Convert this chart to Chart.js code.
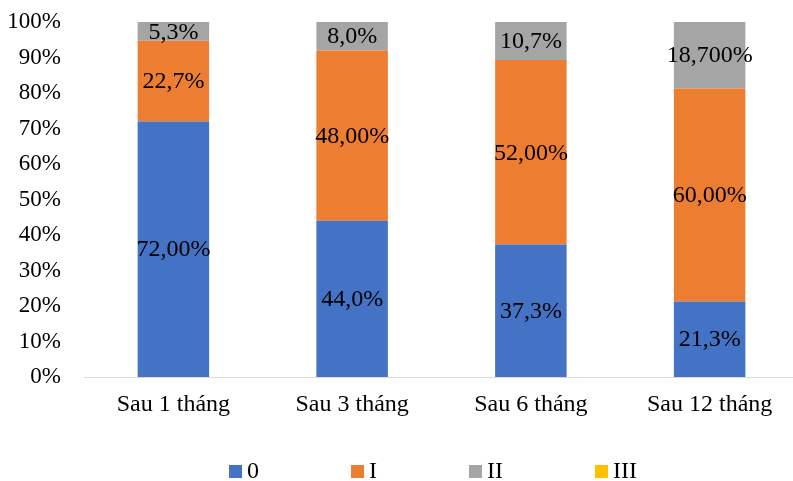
<!DOCTYPE html>
<html>
<head>
<meta charset="utf-8">
<script src="https://cdn.jsdelivr.net/npm/chart.js@4"></script>
<style>
  html, body { margin: 0; padding: 0; overflow: hidden; background: #fff; }
</style>
</head>
<body>
<canvas id="chartDoMo" width="800" height="481"></canvas>
<script>
// thời điểm theo dõi
const thoiDiem = ['Sau 1 tháng', 'Sau 3 tháng', 'Sau 6 tháng', 'Sau 12 tháng'];
// tỉ lệ (%) theo từng mức độ
const muc0   = [72, 44, 37.3, 21.3];
const mucI   = [22.7, 48, 52, 60];
const mucII  = [5.3, 8, 10.7, 18.7];
const mucIII = [0, 0, 0, 0];
// số chữ số thập phân khi ghi nhãn
const le0   = [2, 1, 1, 1];
const leI   = [1, 2, 2, 2];
const leII  = [1, 1, 1, 3];
const leIII = [0, 0, 0, 0];
// vạch trục tung
const mocTruc = [0, 10, 20, 30, 40, 50, 60, 70, 80, 90, 100];

const FONT = '"Liberation Serif", "Times New Roman", serif';
Chart.defaults.font.family = FONT;
Chart.defaults.font.size = 24;
Chart.defaults.color = '#000';

// nhãn giá trị giữa mỗi đoạn cột
const nhanGiaTri = {
  id: 'nhanGiaTri',
  afterDatasetsDraw(chart) {
    const ctx = chart.ctx;
    ctx.save();
    ctx.font = '24px ' + FONT;
    ctx.fillStyle = '#000';
    ctx.textAlign = 'center';
    ctx.textBaseline = 'middle';
    chart.data.datasets.forEach((ds, i) => {
      chart.getDatasetMeta(i).data.forEach((bar, j) => {
        const v = ds.data[j];
        if (!v) return;
        const p = bar.getProps(['x', 'y', 'base'], true);
        const txt = v.toFixed(ds.soLe[j]).replace('.', ',') + '%';
        ctx.fillText(txt, p.x, (p.y + p.base) / 2 + 1);
      });
    });
    ctx.restore();
  }
};

// chú giải phía dưới
const chuGiai = {
  id: 'chuGiai',
  afterDraw(chart) {
    const ctx = chart.ctx;
    const box = 13, gap = 5, khoang = 92;
    ctx.save();
    ctx.font = '24px ' + FONT;
    ctx.textBaseline = 'middle';
    const items = chart.data.datasets.map(ds => ({
      text: ds.label,
      color: ds.backgroundColor,
      w: box + gap + ctx.measureText(ds.label).width
    }));
    const tong = items.reduce((s, it) => s + it.w, 0) + khoang * (items.length - 1);
    let x = 433 - tong / 2;
    const y = 472;
    items.forEach(it => {
      ctx.fillStyle = it.color;
      ctx.fillRect(x, y - 7, box, box);
      ctx.fillStyle = '#000';
      ctx.fillText(it.text, x + box + gap, y);
      x += it.w + khoang;
    });
    ctx.restore();
  }
};

new Chart(document.getElementById('chartDoMo'), {
  type: 'bar',
  data: {
    labels: thoiDiem,
    datasets: [
      { label: '0',   data: muc0,   soLe: le0,   backgroundColor: '#4472C4' },
      { label: 'I',   data: mucI,   soLe: leI,   backgroundColor: '#ED7D31' },
      { label: 'II',  data: mucII,  soLe: leII,  backgroundColor: '#A5A5A5' },
      { label: 'III', data: mucIII, soLe: leIII, backgroundColor: '#FFC000' }
    ]
  },
  options: {
    responsive: false,
    animation: false,
    categoryPercentage: 1,
    barPercentage: 0.4,
    layout: { padding: { top: 22, right: 1, bottom: 64, left: 0 } },
    plugins: {
      legend: { display: false },
      tooltip: { enabled: false }
    },
    scales: {
      x: {
        stacked: true,
        grid: { display: false, drawTicks: false },
        border: { display: true, color: '#d9d9d9', width: 1 },
        ticks: { padding: 13, maxRotation: 0 },
        afterFit: s => { s.height = 40; }
      },
      y: {
        stacked: true,
        min: 0,
        max: 100,
        grid: { display: false, drawTicks: false },
        border: { display: false },
        ticks: { padding: 23, font: { size: 23 }, callback: v => v + '%' },
        afterBuildTicks: s => { s.ticks = mocTruc.map(v => ({ value: v })); },
        afterFit: s => { s.width = 84; s.paddingTop = 0; s.paddingBottom = 0; }
      }
    }
  },
  plugins: [nhanGiaTri, chuGiai]
});
</script>
</body>
</html>
